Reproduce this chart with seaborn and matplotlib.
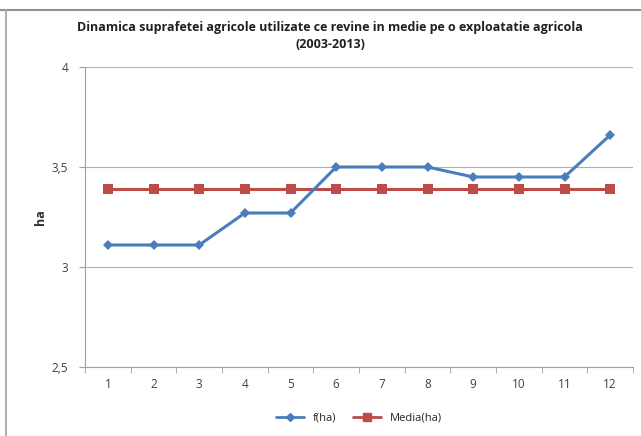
import numpy as np
import pandas as pd
import seaborn as sns
import matplotlib.pyplot as plt
from matplotlib.lines import Line2D

years_idx = list(range(1, 13))
f_ha = [3.11, 3.11, 3.11, 3.27, 3.27, 3.50, 3.50, 3.50, 3.45, 3.45, 3.45, 3.66]
media_ha = [3.39] * 12

df = pd.DataFrame({"x": years_idx, "f(ha)": f_ha, "Media(ha)": media_ha})

sns.set_style("white")
plt.rcParams["font.family"] = ["Open Sans", "DejaVu Sans"]

fig = plt.figure(figsize=(6.41, 4.36), dpi=100)
ax = fig.add_axes([85 / 641, 1 - 367 / 436, 548 / 641, 300 / 436])

blue = "#4a7ebb"
red = "#be4b48"
sns.lineplot(data=df, x="x", y="Media(ha)", ax=ax, color=red, marker="s",
             markersize=7, markeredgewidth=0, linewidth=2.2, label="Media(ha)")
sns.lineplot(data=df, x="x", y="f(ha)", ax=ax, color=blue, marker="D",
             markersize=5, markeredgewidth=0, linewidth=2.2, label="f(ha)")

ax.set_xlim(0.5, 12.5)
ax.set_ylim(2.5, 4)
ax.set_yticks([2.5, 3, 3.5, 4])
ax.set_yticklabels(["2,5", "3", "3,5", "4"])
ax.set_xticks(years_idx)
ax.set_xticks(np.arange(0.5, 13, 1), minor=True)
ax.yaxis.grid(True, color="#b0b0b0", linewidth=0.8)
ax.tick_params(axis="both", labelsize=8.5, colors="#404040", length=0, pad=8)
ax.tick_params(axis="y", length=4, color="#a0a0a0", left=True)
ax.tick_params(axis="x", which="minor", length=4, color="#a0a0a0", bottom=True)
for s in ["top", "right"]:
    ax.spines[s].set_visible(False)
ax.spines["left"].set_color("#a0a0a0")
ax.spines["bottom"].set_color("#a0a0a0")
ax.set_xlabel("")
ax.set_ylabel("ha", fontsize=9, fontweight="bold", color="#303030")
ax.yaxis.set_label_coords(-0.07, 0.5)

fig.text(0.515, 1 - 27 / 436, "Dinamica suprafetei agricole utilizate ce revine in medie pe o exploatatie agricola",
         ha="center", va="center", fontsize=9, fontweight="bold", color="#202020")
fig.text(0.515, 1 - 45 / 436, "(2003-2013)", ha="center", va="center",
         fontsize=9, fontweight="bold", color="#202020")

handles = [Line2D([], [], color=blue, marker="D", markersize=4, linewidth=2),
           Line2D([], [], color=red, marker="s", markersize=6, linewidth=2)]
ax.legend(handles, ["f(ha)", "Media(ha)"], loc="center", bbox_to_anchor=(0.5, -0.17),
          ncol=2, frameon=False, fontsize=8, handlelength=2.5, columnspacing=1.5)

fig.add_artist(Line2D([0, 1], [1 - 10 / 436, 1 - 10 / 436], color="#909090", linewidth=1.5))
fig.add_artist(Line2D([6 / 641, 6 / 641], [0, 1 - 10 / 436], color="#b0b0b0", linewidth=1.5))

fig.savefig("out.png", dpi=100)
